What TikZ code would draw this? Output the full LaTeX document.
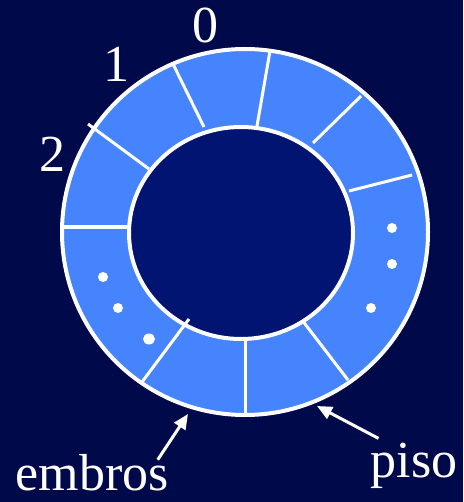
\documentclass[tikz,border=0pt]{standalone}
\usepackage{fontspec}
\setmainfont{Liberation Serif}
\usepackage{tikz}
\usetikzlibrary{arrows.meta}
\definecolor{night}{HTML}{000A4B}
\definecolor{slot}{HTML}{4584FC}
\definecolor{hole}{HTML}{021471}
\newcommand{\ringlabel}[1]{{\fontsize{52}{60}\selectfont\color{white}#1}}

\begin{document}
\begin{tikzpicture}[x=1pt, y=-1pt,
    divider/.style={draw=white, line width=3pt},
    pointer/.style={draw=white, line width=3pt, -{Triangle[length=15pt,width=13pt]}},
    tag/.style={inner sep=0pt, anchor=base}]
\fill[night] (0,0) rectangle (463,502);
% ring and hole
\draw[fill=slot, draw=white, line width=4pt] (245,232) circle[radius=183];
\draw[fill=hole, draw=white, line width=4pt] (241,233) ellipse[x radius=112, y radius=106];
% slots
\draw[divider] (270,51) -- (257,126);
\draw[divider] (173,64) -- (204,127);
\draw[divider] (88,124) -- (149,169);
\draw[divider] (63,227) -- (128,227);
\draw[divider] (189,319) -- (142,382);
\draw[divider] (245,337) -- (245,415);
\draw[divider] (302,320) -- (348,380);
\draw[divider] (361,96) -- (313,143);
\draw[divider] (412,175) -- (349,191);
% dots
\foreach \px/\py in {392/228, 392/264, 371/308, 103/277, 118/308}
    \fill[white] (\px,\py) circle[radius=5];
\fill[white] (149,339) ellipse[x radius=6, y radius=5.5];
% labels
\node[tag] (zero) at (205,43) {\ringlabel{0}};
\node[tag] (one) at (116,82) {\ringlabel{1}};
\node[tag] (two) at (52,172) {\ringlabel{2}};
\node[tag] (embros) at (92,490) {\ringlabel{embros}};
\node[tag] (piso) at (414,477) {\ringlabel{piso}};
\coordinate (emtip) at (188,414);
\coordinate (pisotip) at (317,406);
\draw[pointer] ([xshift=-11pt,yshift=-6pt]embros.north east) -- (emtip);
\draw[pointer] ([xshift=8pt,yshift=4pt]piso.north west) -- (pisotip);
\end{tikzpicture}
\end{document}
